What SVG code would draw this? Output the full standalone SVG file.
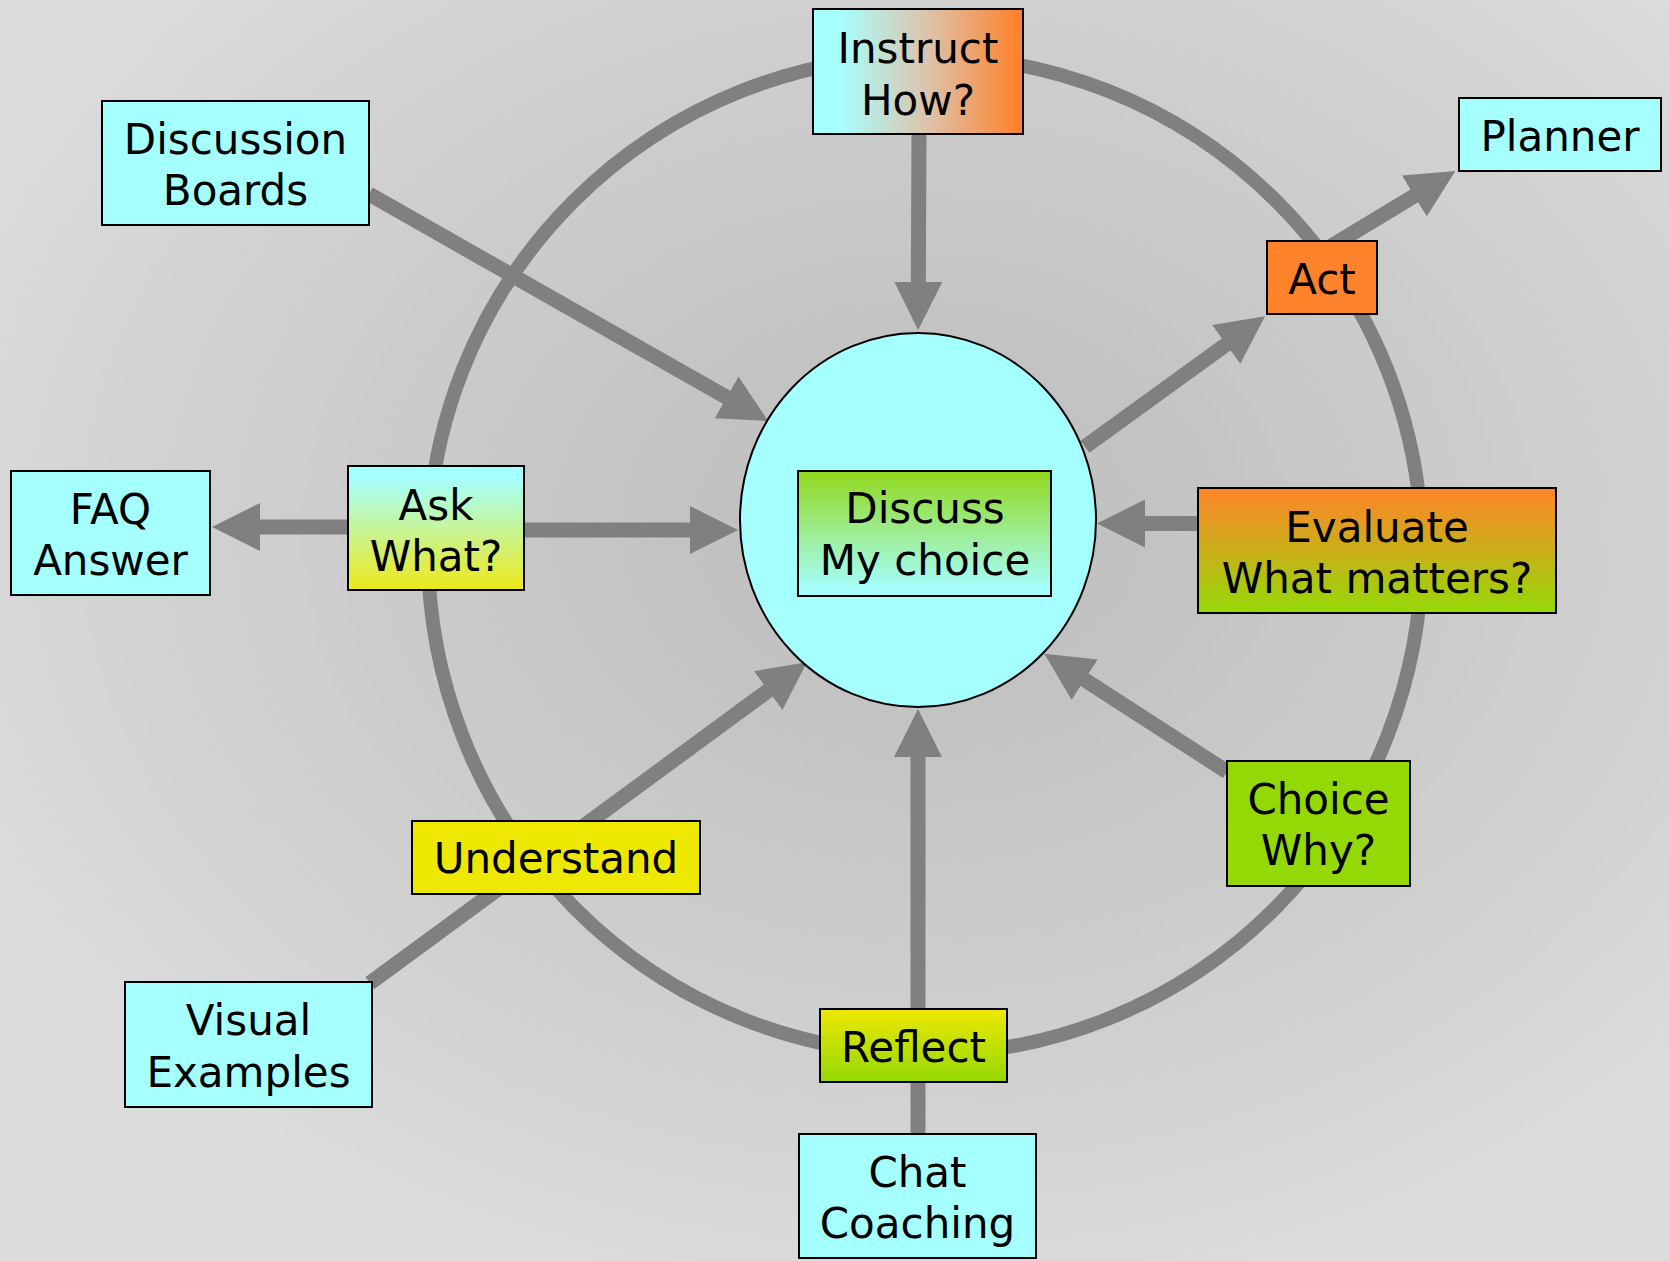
<svg xmlns="http://www.w3.org/2000/svg" width="1669" height="1261" viewBox="0 0 1669 1261">
<defs>
<radialGradient id="bg" cx="0.55" cy="0.42" r="0.62" gradientUnits="objectBoundingBox">
<stop offset="0" stop-color="#bcbcbc"/>
<stop offset="0.75" stop-color="#d2d2d2"/>
<stop offset="1" stop-color="#dcdcdc"/>
</radialGradient>
<linearGradient id="gInstruct" x1="0" y1="0" x2="1" y2="0">
<stop offset="0.12" stop-color="#a6ffff"/>
<stop offset="0.55" stop-color="#dec2aa"/>
<stop offset="1" stop-color="#ff7f27"/>
</linearGradient>
<linearGradient id="gEval" x1="0" y1="0" x2="0" y2="1">
<stop offset="0" stop-color="#ff842a"/>
<stop offset="1" stop-color="#94da08"/>
</linearGradient>
<linearGradient id="gAsk" x1="0" y1="0" x2="0" y2="1">
<stop offset="0.1" stop-color="#a6ffff"/>
<stop offset="1" stop-color="#eee81a"/>
</linearGradient>
<linearGradient id="gDiscuss" x1="0" y1="0" x2="0" y2="1">
<stop offset="0" stop-color="#92d81c"/>
<stop offset="0.95" stop-color="#a6ffff"/>
</linearGradient>
<linearGradient id="gReflect" x1="0" y1="0" x2="0" y2="1">
<stop offset="0" stop-color="#eee800"/>
<stop offset="1" stop-color="#94d804"/>
</linearGradient>
<marker id="ah" markerUnits="userSpaceOnUse" markerWidth="50" markerHeight="50" refX="2" refY="24" orient="auto" viewBox="0 0 50 48">
<path d="M0,0 L48,24 L0,48 Z" fill="#808080"/>
</marker>
</defs>
<style>
.box{stroke:#000;stroke-width:2}
.cy{fill:#a6ffff}
.or{fill:#ff832a}
.gr{fill:#94d806}
.ye{fill:#eee800}
text{font-family:"DejaVu Sans","Verdana",sans-serif;font-size:42px;fill:#000;text-anchor:middle}
.ring{fill:none;stroke:#808080;stroke-width:14}
.sp{fill:none;stroke:#808080;stroke-width:15}
.arr{marker-end:url(#ah)}
</style>
<rect x="0" y="0" width="1669" height="1261" fill="url(#bg)"/>

<g id="connectors">
<path class="ring" d="M428,552 A497,496 0 0 1 1422,552 A497,502 0 0 1 428,552 Z"/>
<line class="sp arr" x1="919" y1="134" x2="918.3" y2="284"/>
<line class="sp arr" x1="369" y1="194" x2="728.3" y2="398.3"/>
<line class="sp arr" x1="348" y1="527" x2="258" y2="527"/>
<line class="sp arr" x1="524" y1="530" x2="692" y2="530"/>
<line class="sp arr" x1="370" y1="983" x2="769.8" y2="689.4"/>
<line class="sp arr" x1="918" y1="1009" x2="918" y2="755"/>
<line class="sp" x1="918" y1="1082" x2="918" y2="1134"/>
<line class="sp arr" x1="1227" y1="771.7" x2="1083" y2="678.7"/>
<line class="sp arr" x1="1198" y1="523.5" x2="1143" y2="523.5"/>
<line class="sp arr" x1="1085" y1="446.7" x2="1227.8" y2="343.2"/>
<line class="sp arr" x1="1320" y1="253" x2="1416" y2="194.9"/>
</g>

<g id="discuss-center">
<ellipse cx="918" cy="520" rx="178" ry="187" fill="#a6ffff" stroke="#000" stroke-width="2"/>
</g>
<g id="discuss">
<rect class="box" x="798" y="471" width="253" height="125" fill="url(#gDiscuss)"/>
<text x="925" y="523">Discuss</text>
<text x="925" y="575">My choice</text>
</g>
<g id="instruct">
<rect class="box" x="813" y="9" width="210" height="125" fill="url(#gInstruct)"/>
<text x="918" y="63">Instruct</text>
<text x="918" y="115">How?</text>
</g>
<g id="discussion-boards">
<rect class="box cy" x="102" y="101" width="267" height="124"/>
<text x="235.5" y="154">Discussion</text>
<text x="235.5" y="205">Boards</text>
</g>
<g id="planner">
<rect class="box cy" x="1459" y="98" width="202" height="73"/>
<text x="1560" y="151">Planner</text>
</g>
<g id="act">
<rect class="box or" x="1267" y="241" width="110" height="73"/>
<text x="1322" y="294">Act</text>
</g>
<g id="faq">
<rect class="box cy" x="11" y="471" width="199" height="124"/>
<text x="110.5" y="524">FAQ</text>
<text x="110.5" y="575">Answer</text>
</g>
<g id="ask">
<rect class="box" x="348" y="466" width="176" height="124" fill="url(#gAsk)"/>
<text x="436" y="520">Ask</text>
<text x="436" y="571">What?</text>
</g>
<g id="evaluate">
<rect class="box" x="1198" y="488" width="358" height="125" fill="url(#gEval)"/>
<text x="1377" y="542">Evaluate</text>
<text x="1377" y="593">What matters?</text>
</g>
<g id="choice">
<rect class="box gr" x="1227" y="761" width="183" height="125"/>
<text x="1318.5" y="814">Choice</text>
<text x="1318.5" y="865">Why?</text>
</g>
<g id="understand">
<rect class="box ye" x="412" y="821" width="288" height="73"/>
<text x="556" y="873">Understand</text>
</g>
<g id="visual-examples">
<rect class="box cy" x="125" y="982" width="247" height="125"/>
<text x="248.5" y="1035">Visual</text>
<text x="248.5" y="1087">Examples</text>
</g>
<g id="reflect">
<rect class="box" x="820" y="1009" width="187" height="73" fill="url(#gReflect)"/>
<text x="913.5" y="1062">Reflect</text>
</g>
<g id="chat-coaching">
<rect class="box cy" x="799" y="1134" width="237" height="124"/>
<text x="917.5" y="1187">Chat</text>
<text x="917.5" y="1238">Coaching</text>
</g>
</svg>
